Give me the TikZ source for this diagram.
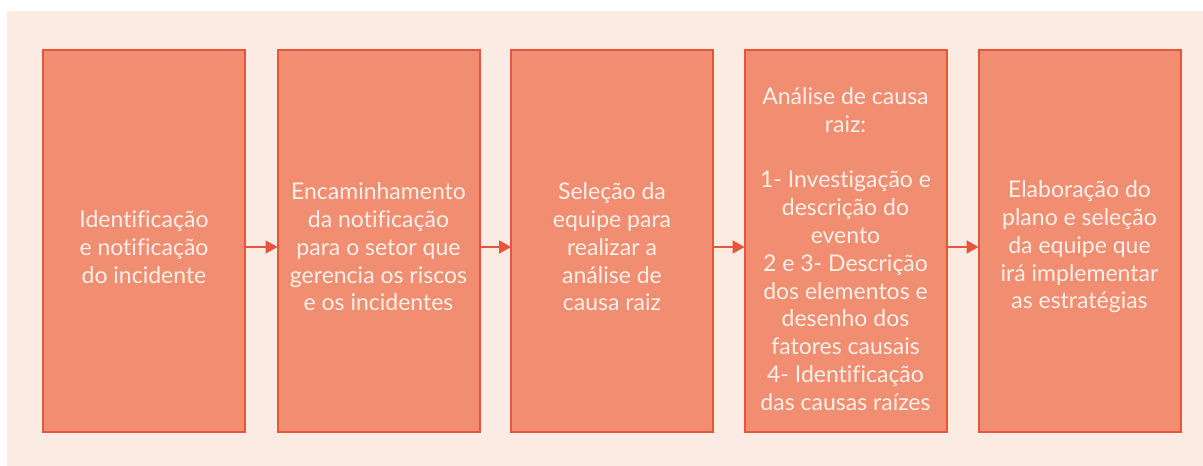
\documentclass[tikz,border=0pt]{standalone}
\usepackage{fontspec}
\setmainfont{Lato}[Ligatures=NoCommon]
\usetikzlibrary{arrows.meta}
\definecolor{bgpeach}{HTML}{FCEBE3}
\definecolor{boxfill}{HTML}{F18D70}
\definecolor{boxline}{HTML}{E9553B}
\definecolor{txtwhite}{HTML}{FDF0EA}
\tikzset{
  stepbox/.style={draw=boxline, fill=boxfill, line width=2pt, minimum width=202pt, minimum height=382pt, inner sep=0pt},
  steptext/.style={text=txtwhite, align=center, font=\fontsize{23pt}{27.8pt}\selectfont, inner sep=0pt},
  flow/.style={draw=boxline, line width=2pt, -{Triangle[length=12pt,width=13pt]}, shorten >=-1pt}
}
\begin{document}
\begin{tikzpicture}[x=1pt,y=-1pt]
\useasboundingbox (0,0) rectangle (1203,466);
\fill[bgpeach] (7,11) rectangle (1203,466);
\node[stepbox] (b1) at (144,241) {};
\node[stepbox] (b2) at (378.5,241) {};
\node[stepbox] (b3) at (612,241) {};
\node[stepbox] (b4) at (845.5,241) {};
\node[stepbox] (b5) at (1079.5,241) {};
\node[steptext] (t1) at (144,247) {Identificação\\e notificação\\do incidente};
\node[steptext] (t2) at (378.5,247) {Encaminhamento\\da notificação\\para o setor que\\gerencia os riscos\\e os incidentes};
\node[steptext] (t3) at (612,247) {Seleção da\\equipe para\\realizar a\\análise de\\causa raiz};
\node[steptext] (t4) at (845.5,249) {Análise de causa\\raiz:\\[27.8pt]1- Investigação e\\descrição do\\evento\\2 e 3- Descrição\\dos elementos e\\desenho dos\\fatores causais\\4- Identificação\\das causas raízes};
\node[steptext] (t5) at (1079.5,247) {Elaboração do\\plano e seleção\\da equipe que\\irá implementar\\as estratégias};
\draw[flow] (b1.east |- 0,247) -- (b2.west |- 0,247);
\draw[flow] (b2.east |- 0,247) -- (b3.west |- 0,247);
\draw[flow] (b3.east |- 0,247) -- (b4.west |- 0,247);
\draw[flow] (b4.east |- 0,247) -- (b5.west |- 0,247);
\end{tikzpicture}
\end{document}
